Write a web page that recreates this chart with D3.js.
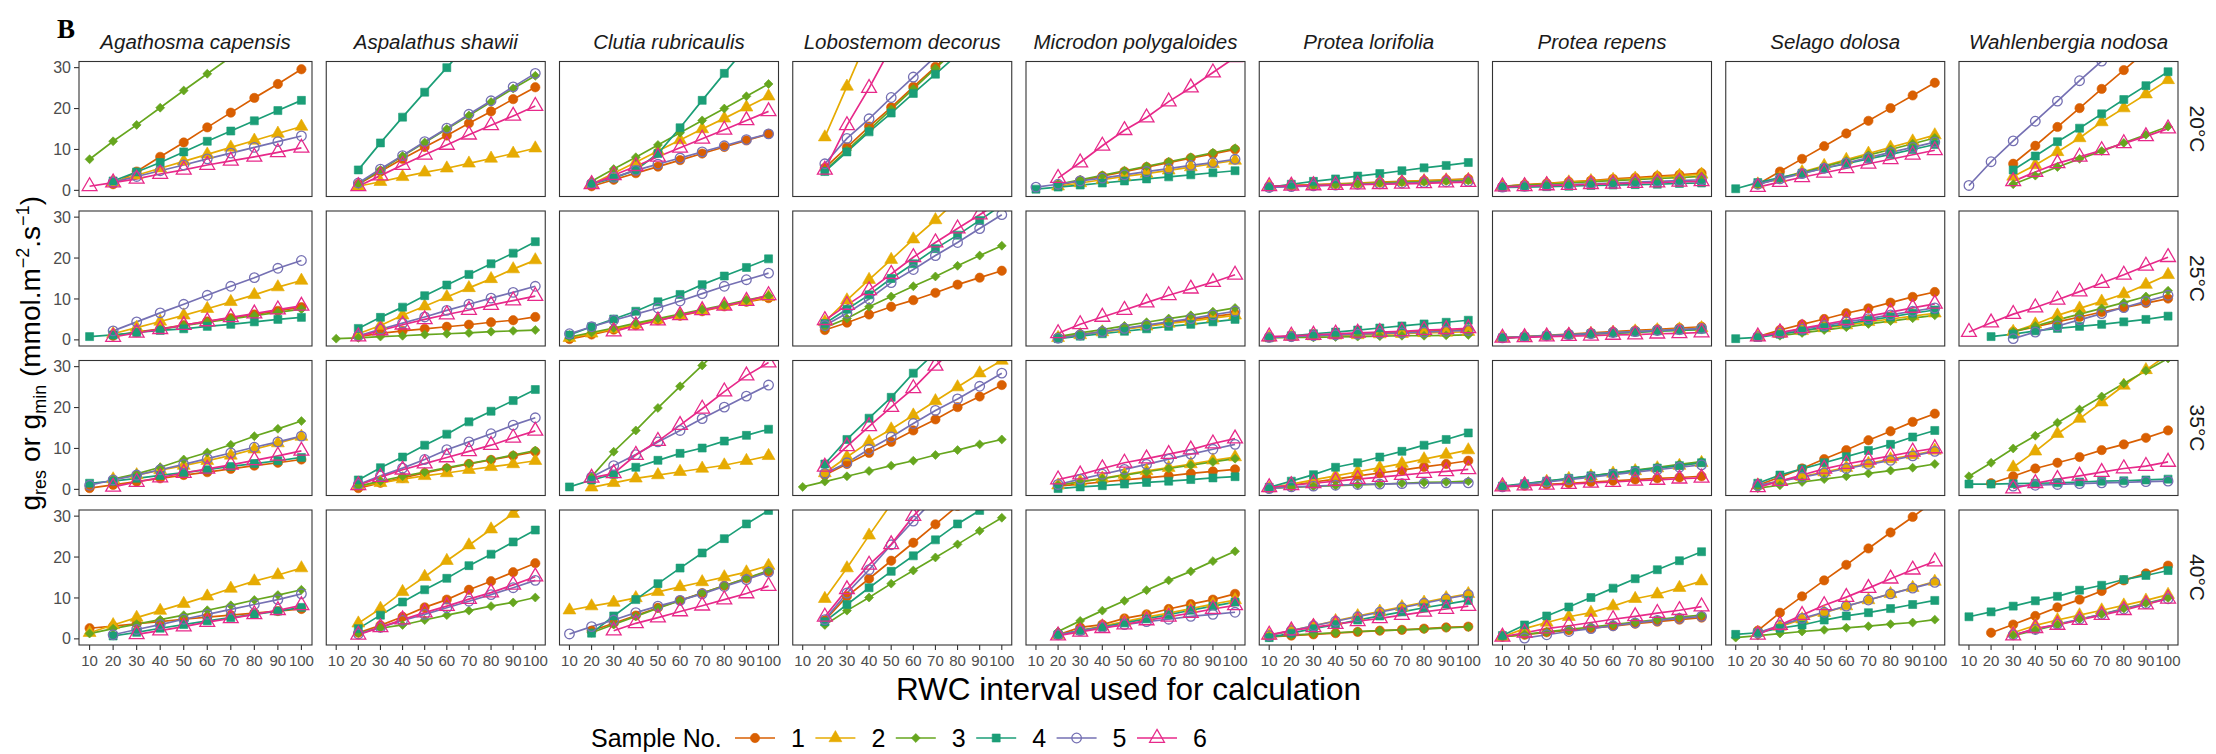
<!DOCTYPE html>
<html>
<head>
<meta charset="utf-8">
<script src="https://cdn.jsdelivr.net/npm/d3@7"></script>
<style>
  body { margin: 0; background: #ffffff; }
  svg { display: block; }
</style>
</head>
<body>
<div id="chart"></div>
<script>
// ---- data ----
const rwc = [10, 20, 30, 40, 50, 60, 70, 80, 90, 100];
const xTicks = [10, 20, 30, 40, 50, 60, 70, 80, 90, 100];
const yTicks = [0, 10, 20, 30];
const species = ["Agathosma capensis", "Aspalathus shawii", "Clutia rubricaulis", "Lobostemom decorus",
  "Microdon polygaloides", "Protea lorifolia", "Protea repens", "Selago dolosa", "Wahlenbergia nodosa"];
const temps = ["20°C", "25°C", "35°C", "40°C"];
const samples = ["1", "2", "3", "4", "5", "6"];

// each array: samples 1..6, one value per RWC interval (10..100); null = not computed
const t20_agathosma = [
  [null, 1.5, 4.6, 8.2, 11.7, 15.4, 19.0, 22.6, 26.0, 29.6],
  [null, 2.0, 3.7, 5.4, 7.1, 8.8, 10.5, 12.2, 13.9, 15.6],
  [7.6, 12.0, 16.0, 20.2, 24.4, 28.5, 32.6, 36.7, 40.8, 44.9],
  [null, 2.3, 4.5, 6.8, 9.4, 12.0, 14.5, 17.0, 19.5, 22.0],
  [null, 2.0, 3.4, 4.8, 6.2, 7.7, 9.1, 10.5, 11.9, 13.3],
  [1.0, 1.9, 2.8, 4.0, 5.0, 6.2, 7.2, 8.2, 9.3, 10.4]
];
const t20_aspalathus = [
  [null, 1.5, 4.6, 7.7, 10.6, 13.4, 16.4, 19.3, 22.3, 25.2],
  [null, 1.0, 2.1, 3.3, 4.4, 5.4, 6.6, 7.8, 9.0, 10.3],
  [null, 1.6, 5.0, 8.4, 11.7, 15.0, 18.3, 21.6, 24.9, 28.0],
  [null, 5.0, 11.6, 17.9, 24.0, 30.0, 36.0, 42.0, 48.0, 54.0],
  [null, 1.8, 5.2, 8.5, 11.9, 15.2, 18.6, 21.9, 25.3, 28.6],
  [null, 1.0, 3.6, 6.2, 8.7, 11.1, 13.6, 15.9, 18.2, 20.6]
];
const t20_clutia = [
  [null, 1.0, 2.6, 4.2, 5.8, 7.4, 9.0, 10.6, 12.2, 13.8],
  [null, 1.5, 4.2, 6.9, 9.6, 12.3, 15.0, 17.6, 20.3, 23.0],
  [null, 2.2, 5.2, 8.1, 11.1, 14.1, 17.1, 20.0, 23.0, 26.0],
  [null, 1.5, 3.0, 5.0, 9.0, 15.3, 22.0, 28.6, 35.0, 41.0],
  [null, 1.6, 3.2, 4.9, 6.4, 7.9, 9.4, 10.9, 12.4, 13.8],
  [null, 1.5, 3.7, 5.9, 8.2, 10.4, 12.6, 14.8, 17.1, 19.3]
];
const t20_lobostemom = [
  [null, 5.5, 10.5, 15.6, 20.3, 25.3, 30.2, 35.2, 40.2, 45.2],
  [null, 13.0, 25.4, 38.0, 50.5, 63.0, 75.5, 88.0, 100.5, 113.0],
  [null, 4.8, 9.8, 14.8, 19.8, 24.8, 29.8, 34.8, 39.8, 44.8],
  [null, 4.6, 9.4, 14.3, 18.9, 23.7, 28.4, 33.2, 38.0, 42.8],
  [null, 6.5, 12.7, 17.5, 22.7, 27.7, 32.7, 37.7, 42.7, 47.7],
  [null, 5.0, 15.9, 25.0, 35.0, 45.0, 55.0, 65.0, 75.0, 85.0]
];
const t20_microdon = [
  [null, 1.3, 2.4, 3.5, 4.6, 5.7, 6.8, 7.9, 8.9, 10.0],
  [null, 1.0, 1.8, 2.6, 3.4, 4.1, 4.9, 5.7, 6.5, 7.3],
  [null, 1.5, 2.6, 3.7, 4.8, 5.9, 7.0, 8.1, 9.2, 10.3],
  [0.3, 0.8, 1.3, 1.8, 2.3, 2.8, 3.3, 3.8, 4.3, 4.8],
  [0.8, 1.5, 2.3, 3.0, 3.8, 4.6, 5.3, 6.1, 6.8, 7.6],
  [null, 3.0, 6.8, 10.9, 14.7, 17.8, 21.7, 25.1, 28.8, 32.5]
];
const t20_lorifolia = [
  [1.0, 1.2, 1.4, 1.6, 1.8, 2.0, 2.2, 2.4, 2.6, 2.8],
  [0.9, 1.1, 1.3, 1.5, 1.7, 1.9, 2.1, 2.3, 2.5, 2.6],
  [0.8, 1.0, 1.2, 1.4, 1.6, 1.8, 2.0, 2.1, 2.3, 2.4],
  [0.8, 1.5, 2.2, 2.8, 3.5, 4.1, 4.8, 5.5, 6.1, 6.8],
  [0.7, 0.9, 1.1, 1.3, 1.5, 1.6, 1.8, 1.9, 2.1, 2.2],
  [1.0, 1.1, 1.2, 1.3, 1.4, 1.5, 1.6, 1.7, 1.9, 2.0]
];
const t20_repens = [
  [1.0, 1.4, 1.7, 2.1, 2.4, 2.8, 3.1, 3.5, 3.8, 4.2],
  [1.0, 1.3, 1.6, 2.0, 2.3, 2.6, 2.9, 3.2, 3.6, 3.9],
  [1.0, 1.3, 1.5, 1.8, 2.1, 2.4, 2.6, 2.9, 3.1, 3.4],
  [0.7, 0.8, 0.9, 1.0, 1.2, 1.3, 1.4, 1.5, 1.7, 1.8],
  [0.8, 1.0, 1.2, 1.4, 1.6, 1.8, 2.0, 2.2, 2.4, 2.6],
  [0.9, 1.0, 1.2, 1.3, 1.5, 1.6, 1.8, 1.9, 2.1, 2.2]
];
const t20_selago = [
  [null, 1.5, 4.6, 7.7, 10.8, 13.9, 17.0, 20.1, 23.2, 26.3],
  [null, 1.5, 3.0, 4.5, 6.0, 7.5, 9.0, 10.5, 12.0, 13.5],
  [null, 1.5, 2.9, 4.3, 5.8, 7.2, 8.6, 10.0, 11.4, 12.8],
  [0.4, 1.9, 3.1, 4.2, 5.4, 6.5, 7.7, 8.8, 10.0, 11.2],
  [null, 1.5, 2.8, 4.1, 5.4, 6.7, 8.0, 9.3, 10.5, 11.8],
  [null, 0.8, 2.0, 3.2, 4.3, 5.4, 6.5, 7.6, 8.7, 9.8]
];
const t20_wahlenbergia = [
  [null, null, 6.5, 10.9, 15.5, 20.1, 24.8, 29.4, 34.0, 38.6],
  [null, null, 3.4, 6.2, 9.4, 12.8, 16.7, 20.1, 23.5, 27.0],
  [null, null, 1.5, 3.6, 5.7, 7.7, 9.6, 11.6, 13.6, 15.6],
  [null, null, 5.0, 8.4, 11.9, 15.2, 18.7, 22.2, 25.6, 29.0],
  [1.2, 7.0, 12.1, 16.9, 21.8, 26.8, 31.6, 36.5, 41.3, 46.2],
  [null, null, 2.2, 4.5, 6.6, 8.2, 9.8, 11.5, 13.2, 15.1]
];

const t25_agathosma = [
  [null, 1.0, 1.9, 2.7, 3.6, 4.5, 5.3, 6.2, 7.1, 8.0],
  [null, 1.5, 3.0, 4.5, 6.0, 7.6, 9.3, 11.0, 12.9, 14.5],
  [null, 1.0, 1.8, 2.6, 3.5, 4.3, 5.1, 5.9, 6.7, 7.5],
  [0.8, 1.2, 1.8, 2.3, 2.7, 3.3, 3.8, 4.4, 5.0, 5.5],
  [null, 2.2, 4.4, 6.6, 8.7, 10.9, 13.1, 15.2, 17.5, 19.4],
  [null, 0.7, 1.7, 2.6, 3.6, 4.5, 5.5, 6.4, 7.4, 8.3]
];
const t25_aspalathus = [
  [null, 0.8, 1.6, 2.2, 2.7, 3.2, 3.7, 4.3, 4.8, 5.6],
  [null, 1.5, 3.5, 6.0, 8.2, 10.5, 12.7, 14.9, 17.3, 19.5],
  [0.3, 0.5, 0.8, 1.0, 1.3, 1.5, 1.7, 2.0, 2.2, 2.4],
  [null, 2.8, 5.5, 8.0, 10.8, 13.4, 16.0, 18.6, 21.2, 24.0],
  [null, 1.0, 2.6, 4.1, 5.6, 7.2, 8.7, 10.2, 11.6, 13.1],
  [null, 0.8, 2.3, 3.7, 5.0, 6.2, 7.3, 8.5, 9.6, 10.7]
];
const t25_clutia = [
  [0.2, 1.3, 2.5, 3.6, 4.8, 5.9, 7.0, 8.2, 9.3, 10.2],
  [0.5, 1.6, 2.7, 3.8, 5.0, 6.1, 7.2, 8.3, 9.4, 10.5],
  [0.7, 1.8, 2.9, 4.1, 5.2, 6.3, 7.4, 8.5, 9.7, 10.8],
  [1.2, 3.2, 5.1, 7.0, 9.3, 11.1, 13.5, 15.6, 17.7, 19.8],
  [1.5, 3.2, 4.8, 6.3, 7.8, 9.5, 11.3, 13.1, 14.7, 16.3],
  [null, null, 2.0, 3.5, 4.7, 6.0, 7.2, 8.3, 9.5, 10.9]
];
const t25_lobostemom = [
  [null, 2.4, 4.2, 6.2, 8.1, 9.7, 11.5, 13.5, 15.2, 16.9],
  [null, 4.4, 9.7, 14.7, 19.6, 24.6, 29.3, 34.3, 39.3, 44.3],
  [null, 3.0, 5.2, 8.1, 10.6, 13.1, 15.5, 18.1, 20.6, 23.0],
  [null, 4.0, 7.5, 11.0, 15.0, 18.6, 22.3, 25.6, 29.2, 33.0],
  [null, 3.5, 6.5, 10.0, 14.0, 17.2, 20.6, 23.8, 27.2, 30.6],
  [null, 4.8, 8.5, 12.1, 16.1, 20.2, 23.8, 27.2, 30.6, 34.0]
];
const t25_microdon = [
  [null, 0.6, 1.3, 2.0, 2.7, 3.5, 4.2, 4.9, 5.7, 6.4],
  [null, 0.5, 1.2, 1.9, 2.6, 3.3, 4.0, 4.6, 5.3, 6.0],
  [null, 0.8, 1.7, 2.5, 3.4, 4.3, 5.2, 6.0, 6.9, 7.8],
  [null, 0.3, 0.9, 1.5, 2.1, 2.7, 3.3, 3.8, 4.4, 5.0],
  [null, 0.4, 1.2, 2.0, 2.8, 3.6, 4.4, 5.2, 6.1, 7.0],
  [null, 1.6, 3.8, 5.6, 7.3, 9.1, 10.9, 12.5, 14.1, 15.9]
];
const t25_lorifolia = [
  [0.6, 0.8, 1.0, 1.2, 1.4, 1.6, 1.9, 2.1, 2.3, 2.5],
  [0.6, 0.8, 0.9, 1.1, 1.2, 1.4, 1.5, 1.7, 1.8, 2.0],
  [0.5, 0.6, 0.6, 0.7, 0.8, 0.9, 1.0, 1.0, 1.1, 1.2],
  [0.5, 1.0, 1.5, 1.9, 2.4, 2.9, 3.4, 3.9, 4.3, 4.8],
  [0.6, 0.8, 1.0, 1.2, 1.4, 1.6, 1.7, 1.9, 2.1, 2.3],
  [0.8, 1.0, 1.2, 1.5, 1.7, 1.9, 2.1, 2.4, 2.6, 2.8]
];
const t25_repens = [
  [0.5, 0.8, 1.1, 1.4, 1.7, 2.0, 2.3, 2.6, 2.9, 3.2],
  [0.5, 0.8, 1.0, 1.3, 1.5, 1.8, 2.1, 2.4, 2.6, 2.9],
  [0.5, 0.7, 0.9, 1.2, 1.4, 1.6, 1.8, 2.1, 2.3, 2.5],
  [0.5, 0.7, 1.0, 1.2, 1.5, 1.7, 1.9, 2.2, 2.4, 2.6],
  [0.5, 0.8, 1.0, 1.3, 1.5, 1.8, 2.0, 2.3, 2.5, 2.8],
  [0.5, 0.6, 0.8, 0.9, 1.0, 1.2, 1.3, 1.5, 1.6, 1.8]
];
const t25_selago = [
  [null, 0.8, 2.4, 3.8, 5.1, 6.5, 7.7, 9.1, 10.5, 11.7],
  [null, 0.8, 1.5, 2.2, 2.9, 3.6, 4.4, 5.1, 5.8, 6.5],
  [null, null, 1.0, 1.7, 2.4, 3.1, 3.9, 4.6, 5.3, 6.0],
  [0.3, 0.6, 1.4, 2.2, 3.1, 3.9, 4.8, 5.6, 6.5, 7.3],
  [null, 0.8, 1.7, 2.6, 3.5, 4.4, 5.2, 6.1, 7.0, 7.8],
  [null, 0.8, 1.8, 2.8, 3.8, 4.8, 5.8, 6.8, 7.8, 8.8]
];
const t25_wahlenbergia = [
  [null, null, 2.0, 3.2, 4.4, 5.6, 6.8, 7.9, 9.0, 10.1],
  [null, null, 2.0, 3.8, 6.0, 7.7, 9.4, 11.2, 13.5, 15.9],
  [null, null, 2.0, 3.4, 4.9, 6.3, 7.7, 9.1, 10.6, 12.0],
  [null, 0.8, 1.4, 2.2, 2.8, 3.3, 3.8, 4.4, 5.0, 5.8],
  [null, null, 0.3, 1.9, 3.4, 4.9, 6.4, 7.9, 9.4, 10.9],
  [1.9, 4.2, 6.3, 7.9, 9.8, 11.8, 13.9, 15.9, 18.1, 20.2]
];

const t35_agathosma = [
  [0.3, 1.1, 1.9, 2.7, 3.5, 4.2, 5.0, 5.8, 6.5, 7.3],
  [null, 2.5, 3.5, 4.7, 5.8, 7.0, 8.3, 9.8, 11.3, 12.9],
  [null, 2.5, 3.8, 5.4, 7.3, 9.0, 10.9, 13.0, 14.8, 16.7],
  [1.5, 2.0, 2.7, 3.4, 4.1, 4.8, 5.6, 6.3, 7.0, 7.8],
  [1.0, 2.3, 3.5, 4.8, 6.1, 7.5, 8.9, 10.3, 11.6, 13.0],
  [null, 0.6, 1.8, 2.9, 4.0, 5.0, 6.0, 7.1, 8.2, 9.4]
];
const t35_aspalathus = [
  [null, 0.3, 1.6, 2.8, 4.0, 5.1, 6.2, 7.2, 8.2, 9.2],
  [null, 0.8, 1.6, 2.5, 3.3, 4.0, 4.8, 5.5, 6.2, 7.0],
  [null, 0.8, 2.0, 3.2, 4.2, 5.3, 6.3, 7.3, 8.4, 9.5],
  [null, 2.3, 5.3, 7.9, 10.8, 13.5, 16.5, 19.1, 21.7, 24.4],
  [null, 1.2, 3.3, 5.2, 7.3, 9.7, 11.6, 13.6, 15.7, 17.5],
  [null, 1.0, 3.0, 4.8, 6.3, 7.8, 9.3, 10.8, 12.6, 14.3]
];
const t35_clutia = [
  [null, null, null, null, null, null, null, null, null, null],
  [null, 0.5, 1.6, 2.7, 3.5, 4.3, 5.1, 5.9, 7.0, 8.2],
  [null, 3.1, 9.2, 14.4, 19.9, 25.2, 30.3, 35.5, 40.7, 45.9],
  [0.6, 2.3, 3.7, 5.4, 7.1, 8.8, 10.1, 11.8, 13.2, 14.7],
  [null, 3.0, 5.8, 8.5, 11.6, 14.4, 17.3, 20.1, 22.8, 25.5],
  [null, 2.8, 3.9, 8.4, 11.8, 15.7, 19.7, 23.9, 27.8, 31.0]
];
const t35_lobostemom = [
  [null, 3.5, 6.2, 8.9, 11.6, 14.4, 17.1, 20.1, 22.7, 25.5],
  [null, 4.0, 7.9, 11.6, 14.7, 18.1, 21.6, 25.0, 28.4, 31.5],
  [0.6, 1.9, 3.2, 4.5, 5.8, 7.0, 8.4, 9.6, 11.0, 12.2],
  [null, 6.2, 12.2, 17.4, 22.5, 28.4, 33.5, 38.6, 43.7, 48.8],
  [null, 3.9, 6.5, 9.8, 12.8, 16.1, 19.3, 22.1, 25.2, 28.4],
  [null, 5.5, 10.5, 15.4, 20.1, 24.7, 30.2, 35.2, 40.2, 45.2]
];
const t35_microdon = [
  [null, 0.8, 1.3, 1.8, 2.3, 2.8, 3.3, 3.9, 4.4, 4.9],
  [null, 1.0, 1.9, 2.7, 3.6, 4.5, 5.3, 6.2, 7.1, 7.9],
  [null, 1.0, 1.8, 2.6, 3.5, 4.3, 5.1, 5.9, 6.7, 7.5],
  [null, 0.2, 0.6, 0.9, 1.3, 1.7, 2.0, 2.4, 2.8, 3.1],
  [null, 1.2, 2.5, 3.7, 4.9, 6.1, 7.4, 8.6, 9.8, 11.0],
  [null, 2.4, 3.6, 5.1, 6.5, 7.5, 8.6, 9.7, 11.2, 12.4]
];
const t35_lorifolia = [
  [0.3, 1.0, 1.8, 2.5, 3.3, 4.0, 4.7, 5.5, 6.2, 7.0],
  [0.3, 1.3, 2.3, 3.3, 4.3, 5.3, 6.3, 7.4, 8.5, 9.6],
  [0.3, 0.5, 0.7, 0.9, 1.1, 1.3, 1.5, 1.7, 1.8, 2.0],
  [0.5, 2.0, 3.6, 5.4, 6.5, 7.9, 9.3, 10.8, 12.2, 13.8],
  [0.2, 0.6, 0.8, 1.0, 1.2, 1.3, 1.4, 1.5, 1.6, 1.6],
  [0.5, 1.0, 1.5, 2.0, 2.5, 3.0, 3.5, 4.0, 4.4, 4.9]
];
const t35_repens = [
  [0.6, 0.9, 1.2, 1.5, 1.8, 2.1, 2.4, 2.7, 2.9, 3.2],
  [0.7, 1.3, 1.9, 2.6, 3.2, 3.9, 4.5, 5.2, 5.8, 6.5],
  [0.6, 1.3, 2.0, 2.6, 3.3, 4.0, 4.7, 5.4, 6.1, 6.8],
  [0.8, 1.4, 2.0, 2.7, 3.3, 3.9, 4.6, 5.2, 5.8, 6.5],
  [0.6, 1.2, 1.8, 2.4, 3.0, 3.6, 4.2, 4.8, 5.4, 6.0],
  [0.7, 0.9, 1.1, 1.3, 1.6, 1.8, 2.1, 2.3, 2.6, 2.8]
];
const t35_selago = [
  [null, 1.0, 3.0, 5.1, 7.4, 9.6, 12.0, 14.2, 16.5, 18.5],
  [null, 1.0, 2.0, 3.1, 4.2, 5.3, 6.3, 7.4, 8.4, 9.5],
  [null, 0.3, 1.0, 1.8, 2.5, 3.2, 3.9, 4.6, 5.3, 6.2],
  [null, 1.5, 3.5, 5.0, 6.5, 8.0, 9.5, 11.0, 12.8, 14.4],
  [null, 1.0, 2.0, 3.0, 4.0, 5.1, 6.1, 7.1, 8.2, 9.3],
  [null, 0.5, 2.0, 3.5, 5.0, 6.2, 7.2, 8.2, 9.2, 10.0]
];
const t35_wahlenbergia = [
  [null, 1.5, 3.2, 5.1, 6.5, 7.9, 9.6, 11.0, 12.6, 14.4],
  [null, null, 5.4, 9.3, 13.6, 17.3, 21.3, 25.4, 29.2, 33.0],
  [3.2, 6.5, 10.0, 13.1, 16.3, 19.5, 22.7, 25.9, 29.0, 32.0],
  [1.3, 1.3, 1.4, 1.5, 1.6, 1.8, 2.0, 2.1, 2.3, 2.5],
  [null, null, 0.8, 1.0, 1.2, 1.4, 1.6, 1.7, 1.9, 2.0],
  [null, null, 0.2, 1.5, 2.5, 3.3, 4.2, 5.1, 5.7, 6.7]
];

const t40_agathosma = [
  [2.6, 3.1, 3.7, 4.2, 4.8, 5.3, 5.8, 6.3, 6.8, 7.3],
  [1.5, 3.4, 5.2, 6.9, 8.6, 10.4, 12.3, 14.1, 15.6, 17.3],
  [1.3, 2.5, 3.6, 4.7, 5.8, 7.0, 8.2, 9.5, 10.7, 12.0],
  [null, 0.7, 1.6, 2.6, 3.5, 4.4, 5.2, 6.0, 6.8, 7.7],
  [null, 1.0, 2.3, 3.5, 4.8, 6.0, 7.2, 8.4, 9.6, 11.0],
  [null, null, 1.1, 2.0, 3.0, 4.1, 5.0, 6.0, 7.0, 8.2]
];
const t40_aspalathus = [
  [null, 1.5, 3.3, 5.4, 7.7, 9.6, 12.0, 14.1, 16.3, 18.5],
  [null, 3.8, 7.4, 11.5, 15.2, 19.1, 22.9, 26.8, 30.6, 34.5],
  [null, 1.5, 2.6, 3.4, 4.6, 5.8, 6.9, 8.0, 8.9, 10.1],
  [null, 2.5, 5.8, 9.0, 12.0, 14.8, 17.9, 20.7, 23.7, 26.6],
  [null, 1.2, 2.8, 4.5, 6.0, 7.6, 9.2, 10.8, 12.5, 14.3],
  [null, 1.0, 2.8, 4.7, 6.4, 8.0, 9.7, 11.3, 13.2, 15.2]
];
const t40_clutia = [
  [null, 2.0, 3.8, 5.7, 7.6, 9.4, 11.2, 13.0, 14.8, 16.5],
  [7.0, 8.0, 8.9, 10.0, 11.5, 12.7, 13.9, 15.1, 16.3, 17.9],
  [null, 1.5, 3.5, 5.5, 7.5, 9.3, 11.2, 13.0, 14.8, 16.7],
  [null, 1.4, 5.6, 9.6, 13.5, 17.3, 21.0, 24.5, 28.1, 31.4],
  [1.2, 3.0, 4.6, 6.4, 8.0, 9.4, 11.0, 12.8, 14.5, 16.3],
  [null, null, 2.0, 3.8, 5.2, 6.7, 8.1, 9.6, 11.1, 12.9]
];
const t40_lobostemom = [
  [null, 4.5, 10.4, 14.7, 19.1, 23.5, 28.0, 32.5, 37.0, 41.5],
  [null, 9.8, 17.3, 25.3, 33.0, 40.8, 48.5, 56.2, 64.0, 71.7],
  [null, 3.4, 6.9, 10.1, 13.5, 16.7, 19.9, 23.1, 26.4, 29.6],
  [null, 4.2, 8.4, 12.5, 16.5, 20.3, 24.2, 28.1, 31.4, 35.0],
  [null, 4.7, 11.2, 16.9, 23.0, 28.8, 34.5, 40.2, 46.0, 51.7],
  [null, 5.4, 12.1, 18.1, 23.1, 30.0, 35.8, 41.6, 47.4, 53.2]
];
const t40_microdon = [
  [null, 1.0, 2.8, 3.5, 5.0, 6.0, 7.3, 8.5, 9.6, 11.0],
  [null, 1.0, 2.1, 3.1, 4.2, 5.3, 6.3, 7.4, 8.5, 9.5],
  [null, 1.8, 4.4, 6.9, 9.3, 11.9, 14.3, 16.5, 19.0, 21.4],
  [null, 1.0, 2.0, 2.9, 3.9, 4.9, 5.9, 7.0, 8.0, 9.0],
  [null, 1.0, 2.0, 2.8, 3.5, 4.2, 4.8, 5.5, 6.0, 6.5],
  [null, 0.8, 1.7, 2.6, 3.5, 4.5, 5.4, 6.3, 7.3, 8.2]
];
const t40_lorifolia = [
  [0.5, 0.8, 1.1, 1.4, 1.7, 2.0, 2.2, 2.5, 2.8, 3.0],
  [0.8, 2.0, 3.2, 4.4, 5.6, 6.7, 7.8, 8.9, 10.0, 11.0],
  [0.5, 0.9, 1.2, 1.5, 1.8, 2.0, 2.2, 2.4, 2.7, 2.9],
  [0.3, 1.4, 2.5, 3.5, 4.6, 5.6, 6.6, 7.6, 8.5, 9.4],
  [0.8, 2.0, 3.2, 4.3, 5.4, 6.5, 7.6, 8.7, 9.8, 10.8],
  [1.0, 2.0, 2.8, 3.6, 4.3, 5.0, 5.8, 6.6, 7.3, 8.0]
];
const t40_repens = [
  [0.5, 1.0, 1.6, 2.1, 2.6, 3.1, 3.7, 4.2, 4.7, 5.2],
  [0.5, 2.5, 4.0, 5.4, 6.4, 8.0, 9.8, 10.9, 12.5, 14.1],
  [0.5, 1.1, 1.7, 2.3, 2.9, 3.5, 4.1, 4.7, 5.3, 5.8],
  [0.8, 3.4, 5.6, 7.8, 10.1, 12.4, 14.7, 16.9, 19.1, 21.3],
  [null, 0.2, 1.0, 1.8, 2.5, 3.2, 3.9, 4.5, 5.0, 5.5],
  [0.5, 1.5, 2.5, 3.2, 4.0, 4.8, 5.5, 6.3, 7.0, 7.9]
];
const t40_selago = [
  [null, 2.0, 6.4, 10.4, 14.3, 18.1, 22.1, 26.0, 29.8, 33.8],
  [null, 1.5, 3.0, 4.8, 6.4, 8.0, 9.5, 11.0, 12.5, 14.0],
  [0.3, 0.8, 1.3, 1.8, 2.2, 2.7, 3.1, 3.6, 4.0, 4.7],
  [1.1, 1.5, 2.6, 3.4, 4.6, 5.6, 6.4, 7.4, 8.4, 9.4],
  [null, 1.5, 3.3, 5.0, 6.5, 8.0, 9.5, 11.0, 12.4, 13.8],
  [null, 1.0, 3.4, 5.8, 8.2, 10.2, 12.4, 14.7, 16.9, 18.9]
];
const t40_wahlenbergia = [
  [null, 1.5, 3.5, 5.6, 7.7, 9.6, 11.7, 14.3, 16.0, 17.9],
  [null, null, 1.5, 3.3, 4.6, 5.8, 7.0, 8.2, 9.4, 10.8],
  [null, null, 0.8, 2.1, 3.4, 4.8, 6.0, 7.4, 8.7, 10.0],
  [5.4, 6.6, 8.0, 9.3, 10.4, 11.9, 13.1, 14.5, 15.5, 16.7],
  [null, null, 1.0, 2.3, 3.6, 4.8, 6.0, 7.3, 8.6, 9.8],
  [null, null, 0.8, 2.6, 3.4, 4.6, 5.8, 7.0, 8.4, 9.8]
];

// rows = temperature, columns = species
const grid = [
  [t20_agathosma, t20_aspalathus, t20_clutia, t20_lobostemom, t20_microdon, t20_lorifolia, t20_repens, t20_selago, t20_wahlenbergia],
  [t25_agathosma, t25_aspalathus, t25_clutia, t25_lobostemom, t25_microdon, t25_lorifolia, t25_repens, t25_selago, t25_wahlenbergia],
  [t35_agathosma, t35_aspalathus, t35_clutia, t35_lobostemom, t35_microdon, t35_lorifolia, t35_repens, t35_selago, t35_wahlenbergia],
  [t40_agathosma, t40_aspalathus, t40_clutia, t40_lobostemom, t40_microdon, t40_lorifolia, t40_repens, t40_selago, t40_wahlenbergia]
];

// ---- layout / style ----
const width = 2216, height = 754;
const left0 = 93, top0 = 61.5;
const panelW = 219, panelH = 135;
const colStep = 233.25, rowStep = 149.5;
// the first column is drawn a little wider in the original figure
const firstLeft = 79;
const colLeft = c => c === 0 ? firstLeft : left0 + c * colStep;
const colWidth = c => c === 0 ? left0 + panelW - firstLeft : panelW;

const font = "'Liberation Sans', Arial, sans-serif";
const colors = ["#D95F02", "#E6AB02", "#66A61E", "#1B9E77", "#7570B3", "#E7298A"];
const shapes = [
  { type: d3.symbolCircle, size: 68, fill: true, rot: 0 },
  { type: d3.symbolTriangle, size: 72, fill: true, rot: 0 },
  { type: d3.symbolSquare, size: 40, fill: true, rot: 45 },
  { type: d3.symbolSquare, size: 64, fill: true, rot: 0 },
  { type: d3.symbolCircle, size: 72, fill: false, rot: 0 },
  { type: d3.symbolTriangle, size: 95, fill: false, rot: 0 }
];

const y = d3.scaleLinear().domain([-1.5, 31.5]).range([panelH, 0]);

const svg = d3.select("#chart").append("svg")
  .attr("width", width).attr("height", height)
  .attr("viewBox", `0 0 ${width} ${height}`)
  .style("font-family", font);

svg.append("rect").attr("width", width).attr("height", height).attr("fill", "#fff");

const defs = svg.append("defs");
[0, 1].forEach(c => {
  defs.append("clipPath").attr("id", `clip-${c}`)
    .append("rect").attr("width", colWidth(c)).attr("height", panelH);
});

function drawMarker(sel, i) {
  const s = shapes[i];
  sel.attr("d", d3.symbol().type(s.type).size(s.size)())
    .attr("fill", s.fill ? colors[i] : "none")
    .attr("stroke", colors[i])
    .attr("stroke-width", s.fill ? 0.6 : 1.3);
}

// ---- panels ----
grid.forEach((row, r) => {
  row.forEach((panel, c) => {
    const pw = colWidth(c);
    const x = d3.scaleLinear().domain([5.5, 104.5]).range([0, pw]);
    const line = d3.line()
      .defined(d => d.v != null)
      .x(d => x(d.x))
      .y(d => y(d.v));

    const px = colLeft(c), py = top0 + r * rowStep;
    const g = svg.append("g").attr("transform", `translate(${px},${py})`);
    const inner = g.append("g").attr("clip-path", `url(#clip-${c === 0 ? 0 : 1})`);

    const series = panel.map((vals, i) => ({
      i, pts: vals.map((v, k) => ({ x: rwc[k], v }))
    }));

    inner.selectAll("path.ln").data(series).join("path")
      .attr("class", "ln")
      .attr("d", d => line(d.pts))
      .attr("fill", "none")
      .attr("stroke", d => colors[d.i])
      .attr("stroke-width", 1.7);

    series.forEach(s => {
      inner.selectAll(null).data(s.pts.filter(p => p.v != null)).join("path")
        .attr("transform", p => `translate(${x(p.x)},${y(p.v)}) rotate(${shapes[s.i].rot})`)
        .call(drawMarker, s.i);
    });

    g.append("rect").attr("width", pw).attr("height", panelH)
      .attr("fill", "none").attr("stroke", "#333333").attr("stroke-width", 1.1);

    // y axis on first column
    if (c === 0) {
      const ya = g.append("g");
      ya.selectAll("line").data(yTicks).join("line")
        .attr("x1", -5).attr("x2", 0)
        .attr("y1", d => y(d)).attr("y2", d => y(d))
        .attr("stroke", "#333333").attr("stroke-width", 1.1);
      ya.selectAll("text").data(yTicks).join("text")
        .attr("x", -8).attr("y", d => y(d)).attr("dy", "0.35em")
        .attr("text-anchor", "end")
        .attr("fill", "#4d4d4d").style("font-size", "16px")
        .text(d => d);
    }
    // x axis on last row
    if (r === grid.length - 1) {
      const xa = g.append("g").attr("transform", `translate(0,${panelH})`);
      xa.selectAll("line").data(xTicks).join("line")
        .attr("x1", d => x(d)).attr("x2", d => x(d))
        .attr("y1", 0).attr("y2", 5)
        .attr("stroke", "#333333").attr("stroke-width", 1.1);
      xa.selectAll("text").data(xTicks).join("text")
        .attr("x", d => x(d)).attr("y", 21)
        .attr("text-anchor", "middle")
        .attr("fill", "#4d4d4d").style("font-size", "15px")
        .text(d => d);
    }
  });
});

// column strips
svg.selectAll("text.col-strip").data(species).join("text")
  .attr("class", "col-strip")
  .attr("x", (d, c) => colLeft(c) + colWidth(c) / 2)
  .attr("y", 49)
  .attr("text-anchor", "middle")
  .style("font-size", "20.5px").style("font-style", "italic")
  .attr("fill", "#1a1a1a")
  .text(d => d);

// row strips
svg.selectAll("text.row-strip").data(temps).join("text")
  .attr("class", "row-strip")
  .attr("transform", (d, r) => `translate(${colLeft(8) + panelW + 12},${top0 + r * rowStep + panelH / 2}) rotate(90)`)
  .attr("text-anchor", "middle")
  .style("font-size", "21px")
  .attr("fill", "#1a1a1a")
  .text(d => d);

// panel label
svg.append("text").attr("x", 57).attr("y", 38)
  .style("font-family", "'Liberation Serif', 'Times New Roman', serif")
  .style("font-weight", "bold").style("font-size", "27px")
  .text("B");

// y title
const yTitle = svg.append("text")
  .attr("transform", `translate(40,${top0 + (3 * rowStep + panelH) / 2}) rotate(-90)`)
  .attr("text-anchor", "middle")
  .style("font-size", "28px").attr("fill", "#000");
const yParts = [
  { t: "g", s: 28, dy: 0 }, { t: "res", s: 18, dy: 6 },
  { t: " or g", s: 28, dy: -6 }, { t: "min", s: 18, dy: 6 },
  { t: " (mmol.m", s: 28, dy: -6 }, { t: "−2", s: 18, dy: -11 },
  { t: ".s", s: 28, dy: 11 }, { t: "−1", s: 18, dy: -11 },
  { t: ")", s: 28, dy: 11 }
];
yParts.forEach(p => yTitle.append("tspan").attr("dy", p.dy).style("font-size", p.s + "px").text(p.t));

// x title
svg.append("text")
  .attr("x", colLeft(0) + (colLeft(8) + panelW - colLeft(0)) / 2).attr("y", 700)
  .attr("text-anchor", "middle")
  .style("font-size", "31.5px").attr("fill", "#000")
  .text("RWC interval used for calculation");

// legend
const lg = svg.append("g").attr("transform", "translate(0,738)");
lg.append("text").attr("x", 591).attr("y", 0).attr("dy", "0.35em")
  .style("font-size", "25px").text("Sample No.");
const keyX = d3.scaleLinear().domain([0, 5]).range([755, 1157]);
samples.forEach((s, i) => {
  const k = lg.append("g").attr("transform", `translate(${keyX(i)},0)`);
  k.append("line").attr("x1", -20).attr("x2", 20)
    .attr("stroke", colors[i]).attr("stroke-width", 1.7);
  k.append("path").attr("transform", `rotate(${shapes[i].rot})`).call(drawMarker, i);
  k.append("text").attr("x", 36).attr("dy", "0.35em")
    .style("font-size", "25px").text(s);
});
</script>
</body>
</html>
